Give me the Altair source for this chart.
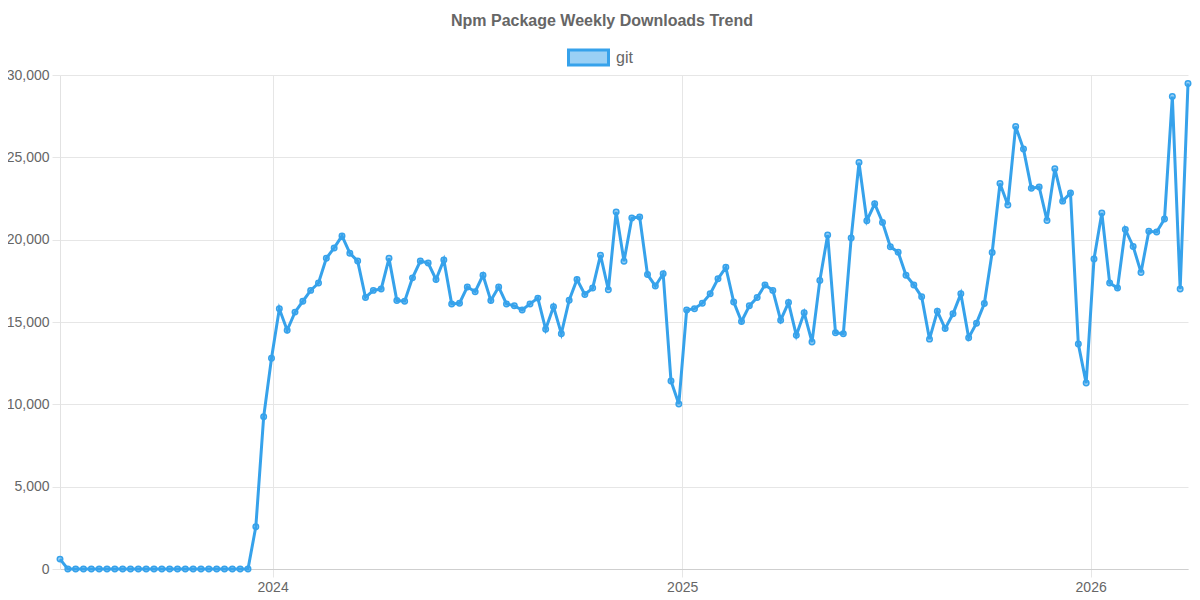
import altair as alt
import pandas as pd

# weekly npm downloads for "git", first week starting 2023-06-25
first_week = "2023-06-25"
package_name = "git"
downloads = [
    600, 0, 0, 0, 0, 0, 0, 0, 0, 0, 0, 0, 0, 0, 0, 0, 0, 0, 0, 0, 0, 0, 0, 0, 0,
    2570, 9240, 12800, 15800, 14500, 15600, 16260, 16920, 17370, 18870, 19500,
    20230, 19180, 18700, 16490, 16920, 17000, 18870, 16300, 16260, 17680,
    18700, 18580, 17580, 18770, 16100, 16140, 17130, 16840, 17840, 16300,
    17130, 16100, 15980, 15730, 16100, 16450, 14560, 15930, 14290, 16320,
    17580, 16670, 17060, 19060, 16960, 21680, 18690, 21310, 21380, 17880,
    17190, 17930, 11420, 10020, 15730, 15810, 16140, 16710, 17620, 18320,
    16220, 15030, 15980, 16490, 17250, 16920, 15110, 16180, 14190, 15560,
    13780, 17520, 20290, 14350, 14290, 20100, 24680, 21150, 22180, 21050,
    19570, 19240, 17840, 17250, 16530, 13960, 15650, 14600, 15500, 16710,
    14050, 14930, 16120, 19220, 23410, 22110, 26880, 25500, 23120, 23200,
    21170, 24310, 22340, 22830, 13660, 11290, 18830, 21620, 17370, 17060,
    20620, 19590, 18010, 20510, 20470, 21250, 28690, 17000, 29490,
]
year_ticks = [2024, 2025, 2026]
y_ticks = [0, 5000, 10000, 15000, 20000, 25000, 30000]

df = pd.DataFrame(
    {
        "week": pd.date_range(first_week, periods=len(downloads), freq="7D"),
        "downloads": downloads,
        "package": package_name,
    }
)

FONT = "Liberation Sans"
BLUE = "#36a2eb"
BLUE_FILL = "rgba(54,162,235,0.5)"

legend = alt.Legend(
    title=None,
    orient="none",
    legendX=507,
    legendY=-39,
    padding=0,
    symbolType="M-1,-0.375H1V0.375H-1Z",
    symbolSize=1600,
    symbolStrokeWidth=3,
    labelFont=FONT,
    labelFontSize=16,
    labelColor="#666",
    labelOffset=6,
)

base = alt.Chart(df).encode(
    x=alt.X(
        "week:T",
        title=None,
        scale=alt.Scale(nice=False),
        axis=alt.Axis(
            values=[alt.DateTime(year=y, month=1, date=1) for y in year_ticks],
            format="%Y",
            labelAngle=0,
            domainColor="#cfcfcf",
        ),
    ),
    y=alt.Y(
        "downloads:Q",
        title=None,
        scale=alt.Scale(domain=[0, 30000], nice=False),
        axis=alt.Axis(values=y_ticks, format=",d", domainColor="#e2e2e2"),
    ),
)

line = base.mark_line(color=BLUE, strokeWidth=3, strokeJoin="miter")

points = base.mark_circle(size=30, opacity=1, strokeWidth=1.5).encode(
    fill=alt.Fill("package:N", scale=alt.Scale(range=[BLUE_FILL]), legend=legend),
    stroke=alt.Stroke("package:N", scale=alt.Scale(range=[BLUE]), legend=legend),
)

chart = (
    alt.layer(line, points)
    .properties(
        width=1128,
        height=494,
        title=alt.Title(
            "Npm Package Weekly Downloads Trend",
            font=FONT,
            fontSize=16,
            fontWeight="bold",
            color="#666",
            anchor="middle",
            dx=-22,
            offset=7,
        ),
        autosize=alt.AutoSizeParams(type="none"),
        padding={"left": 52, "top": 67, "right": 4, "bottom": 26},
    )
    .configure_view(stroke=None)
    .configure_axis(
        labelFont=FONT,
        labelFontSize=14,
        labelColor="#666",
        gridColor="#e6e6e6",
        tickColor="#e6e6e6",
        tickSize=8,
        labelPadding=3,
    )
)

chart.save("out.html", embed_options={"renderer": "svg", "actions": False})
